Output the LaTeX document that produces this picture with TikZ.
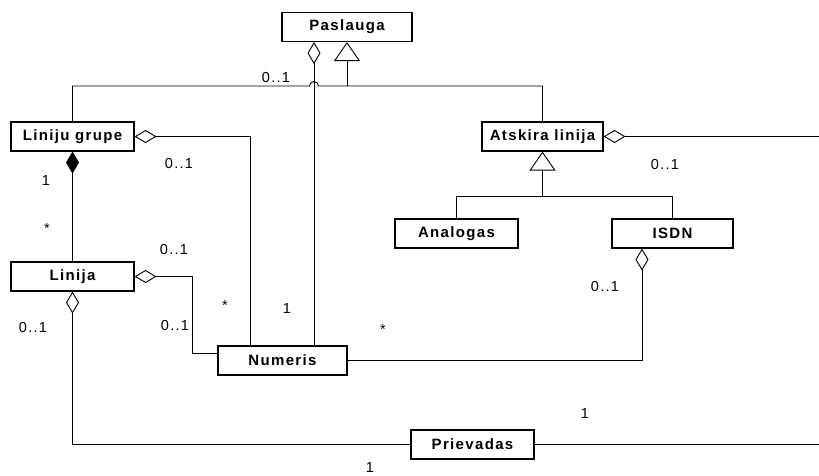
\documentclass[tikz,border=0pt]{standalone}
\usepackage{fontspec}
\setmainfont{Liberation Sans}
\newfontfamily\clsfont{Liberation Sans}[LetterSpace=9]
\usetikzlibrary{arrows.meta,calc}

\begin{document}
\begin{tikzpicture}[x=1pt,y=-1pt,
  cls/.style={draw, line width=1.1pt, fill=white, minimum height=29pt, inner sep=0pt,
    font=\clsfont\bfseries\fontsize{15}{17}\selectfont},
  link/.style={line width=0.9pt},
  aggr/.style={link, {Diamond[open, length=22pt, width=13pt, line width=0.9pt]}-},
  comp/.style={link, {Diamond[length=22pt, width=13pt]}-},
  gen/.style={link, {Triangle[open, length=19pt, width=26pt, line width=0.9pt]}-},
  mult/.style={font=\clsfont\fontsize{14.5}{16}\selectfont, inner sep=0pt}]
\useasboundingbox (0,0) rectangle (819,475);

% classes
\node[cls, minimum width=130pt] (pas)  at (347,27)      {Paslauga};
\node[cls, minimum width=123pt] (lg)   at (72.5,136.5)  {Liniju grupe};
\node[cls, minimum width=121pt] (atl)  at (542.5,136.5) {Atskira linija};
\node[cls, minimum width=123pt] (lin)  at (72.5,276.5)  {Linija};
\node[cls, minimum width=123pt] (ana)  at (456.5,233.5) {Analogas};
\node[cls, minimum width=121pt] (isdn) at (672.5,233.5) {ISDN};
\node[cls, minimum width=129pt] (num)  at (282.5,360.5) {Numeris};
\node[cls, minimum width=123pt] (prv)  at (472.5,444.5) {Prievadas};

% helper levels
\coordinate (bus) at (0,86);
\coordinate (hop) at (314,86);
\coordinate (sub) at (0,196);
\coordinate (eastedge) at (819,0);

% Paslauga generalisation bus (with a hop over the aggregation line)
\draw[gen] (pas.south) -- (pas.south |- bus);
\draw[link] (lg.north) |- ($(hop)+(-4.5,0)$) arc[start angle=180, end angle=0, radius=4.5pt]
  -- (atl.north |- bus) -- (atl.north);

% Paslauga -- Numeris
\draw[aggr] ($(pas.south)+(-33,0)$) -- ($(num.north)+(31.5,0)$);

% Liniju grupe -- Numeris
\draw[aggr] (lg.east) -| ($(num.north)+(-32.5,0)$);

% Liniju grupe -- Linija
\draw[comp] (lg.south) -- (lin.north);

% Linija -- Numeris
\draw[aggr] (lin.east) -| ($(num.west)+(-25,-7)$) -- ($(num.west)+(0,-7)$);

% Linija -- Prievadas
\draw[aggr] (lin.south) |- (prv.west);
\draw[link] (prv.east) -- (prv.east -| eastedge);

% Atskira linija association
\draw[aggr] (atl.east) -- (atl.east -| eastedge);

% Atskira linija generalisation
\draw[gen] (atl.south) -- (atl.south |- sub);
\draw[link] (ana.north) |- (isdn.north |- sub) -- (isdn.north);

% ISDN -- Numeris
\draw[aggr] ($(isdn.south)+(-30.5,0)$) |- (num.east);

% multiplicities
\node[mult] (m1)  at (276,78)  {0..1};
\node[mult] (m2)  at (179,164) {0..1};
\node[mult] (m3)  at (46,181)  {1};
\node[mult] (m4)  at (47,229)  {*};
\node[mult] (m5)  at (174,249) {0..1};
\node[mult] (m6)  at (33,327)  {0..1};
\node[mult] (m7)  at (225,306) {*};
\node[mult] (m8)  at (287,309) {1};
\node[mult] (m9)  at (175,325) {0..1};
\node[mult] (m10) at (383,330) {*};
\node[mult] (m11) at (605,287) {0..1};
\node[mult] (m12) at (665,165) {0..1};
\node[mult] (m13) at (585,414) {1};
\node[mult] (m14) at (370,468) {1};
\end{tikzpicture}
\end{document}
